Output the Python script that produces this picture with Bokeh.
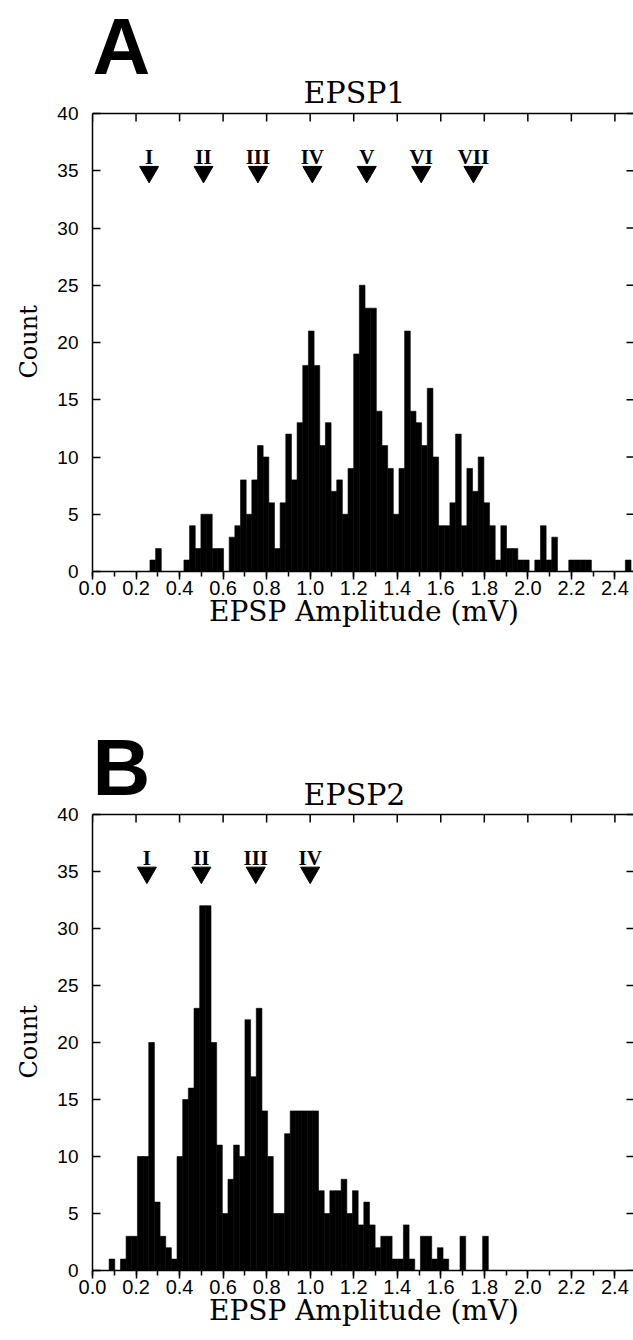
import math
from bokeh.plotting import figure
from bokeh.models import (ColumnDataSource, LinearAxis, SingleIntervalTicker,
                          Range1d, Label, Title, PrintfTickFormatter)
from bokeh.layouts import column
from bokeh.embed import file_html
from bokeh.resources import INLINE
from bokeh.core.properties import value

# ---------------- data ----------------
# Panel A : EPSP1 amplitude histogram
a_bin_start = 0.264      # mV, left edge of first bin
a_bin_width = 0.026      # mV
a_counts = [1, 2, 0, 0, 0, 0, 1, 4, 2, 5, 5, 2, 2, 0, 3, 4, 8, 5, 8, 11,
            10, 6, 2, 6, 12, 8, 13, 18, 21, 18, 11, 13, 7, 8, 5, 9, 19, 25, 23, 23,
            14, 11, 9, 5, 9, 21, 14, 13, 11, 16, 10, 4, 4, 6, 12, 4, 9, 7, 10, 6,
            4, 1, 4, 2, 2, 1, 1, 0, 1, 4, 1, 3, 0, 0, 1, 1, 1, 1, 0, 0,
            0, 0, 0, 0, 1]
a_peak_pos = [0.26, 0.51, 0.76, 1.01, 1.26, 1.51, 1.75]
a_peak_labels = ["I", "II", "III", "IV", "V", "VI", "VII"]

# Panel B : EPSP2 amplitude histogram
b_bin_start = 0.0764
b_bin_width = 0.026
b_counts = [1, 0, 1, 3, 3, 10, 10, 20, 6, 3, 2, 1, 10, 15, 16, 23, 32, 32, 20, 11,
            5, 8, 11, 10, 22, 17, 23, 14, 10, 5, 5, 12, 14, 14, 14, 14, 14, 7, 5, 7,
            7, 8, 5, 7, 4, 6, 4, 2, 3, 3, 1, 1, 4, 1, 0, 3, 3, 1, 2, 1,
            0, 0, 3, 0, 0, 0, 3]
b_peak_pos = [0.25, 0.50, 0.75, 1.00]
b_peak_labels = ["I", "II", "III", "IV"]

x_tick_values = [0.2 * i for i in range(13)]     # 0.0 ... 2.4
y_tick_values = [5 * i for i in range(9)]        # 0 ... 40
y_max = 40
x_max = 2.49
marker_level = 34.9        # count level of the quantal arrows
label_level = 36.2         # count level of the roman numerals

SERIF = "DejaVu Serif"
SANS = "Liberation Sans"

LEFT = 90          # left border (px)
BOX_W = 542        # width of the plot box (px)
PAGE_W = 633
COUNT_LABEL_LEN = 72   # approximate length of the "Count" label (px)


def make_panel(letter, title, counts, start, width, peaks, peak_labels,
               head_h, box_h, b_bottom, letter_dy, title_dy):
    """head_h: pixels above the box reserved for the panel letter and title."""
    px_per_x = BOX_W / x_max
    px_per_y = box_h / y_max
    frame_w = PAGE_W - LEFT
    frame_h = head_h + box_h
    p = figure(frame_width=frame_w, frame_height=frame_h,
               x_range=Range1d(0, frame_w / px_per_x),
               y_range=Range1d(0, frame_h / px_per_y),
               output_backend="svg", toolbar_location=None,
               min_border_left=LEFT, min_border_right=0,
               min_border_top=0, min_border_bottom=b_bottom,
               x_axis_location=None, y_axis_location=None,
               background_fill_color="white", border_fill_color="white")
    p.outline_line_color = None
    p.xgrid.visible = False
    p.ygrid.visible = False

    left = [start + i * width for i in range(len(counts))]
    right = [l + width for l in left]
    src = ColumnDataSource(dict(left=left, right=right, top=counts,
                                bottom=[0] * len(counts)))
    p.quad(left="left", right="right", top="top", bottom="bottom", source=src,
           fill_color="black", line_color="black", line_width=0.6)

    # top and right sides of the box
    p.segment(x0=[0, x_max], y0=[y_max, 0], x1=[x_max, x_max], y1=[y_max, y_max],
              line_color="black", line_width=1.5)
    # ticks on the top and right edges of the box (pointing inwards)
    p.ray(x=x_tick_values, y=[y_max] * len(x_tick_values), length=8,
          length_units="screen", angle=-math.pi / 2, line_color="black", line_width=1.5)
    p.ray(x=[x_max] * len(y_tick_values), y=y_tick_values, length=8,
          length_units="screen", angle=math.pi, line_color="black", line_width=1.5)

    # quantal markers
    msrc = ColumnDataSource(dict(x=peaks, y=[marker_level] * len(peaks),
                                 ly=[label_level] * len(peaks), txt=peak_labels))
    p.scatter(x="x", y="y", source=msrc, marker="inverted_triangle", size=19,
              fill_color="black", line_color="black")
    p.text(x="x", y="ly", text="txt", source=msrc, text_align="center",
           text_baseline="middle", text_font=value("Liberation Serif"),
           text_font_style="bold", text_font_size="21px", text_color="black")

    # axes
    xb = LinearAxis(ticker=SingleIntervalTicker(interval=0.2, num_minor_ticks=2),
                    formatter=PrintfTickFormatter(format="%.1f"),
                    axis_label="EPSP Amplitude (mV)", bounds=(0, x_max))
    xb.major_tick_in = 0
    xb.major_tick_out = 8
    xb.minor_tick_in = 0
    xb.minor_tick_out = 5
    xb.major_label_standoff = 1
    xb.major_label_text_font = SANS
    xb.major_label_text_font_size = "20px"
    xb.axis_label_text_font = SERIF
    xb.axis_label_text_font_size = "28px"
    xb.axis_label_text_font_style = "normal"
    xb.axis_label_standoff = -3
    p.add_layout(xb, "below")

    yl = LinearAxis(ticker=SingleIntervalTicker(interval=5, num_minor_ticks=0),
                    bounds=(0, y_max))
    yl.major_tick_in = 8
    yl.major_tick_out = 0
    yl.minor_tick_in = 0
    yl.minor_tick_out = 0
    yl.major_label_standoff = 14
    yl.major_label_text_font = SANS
    yl.major_label_text_font_size = "19px"
    p.add_layout(yl, "left")

    for ax in (xb, yl):
        ax.axis_line_width = 1.5
        ax.major_tick_line_width = 1.5
        ax.minor_tick_line_width = 1.5
        ax.axis_line_color = "black"
        ax.major_tick_line_color = "black"
        ax.minor_tick_line_color = "black"
        ax.major_label_text_color = "black"
        ax.axis_label_text_color = "black"

    # y-axis label, centred on the box (not on the whole frame):
    # a left-aligned side title starts "offset" pixels above the frame bottom
    p.add_layout(Title(text="Count", align="left",
                       offset=box_h / 2 - COUNT_LABEL_LEN / 2,
                       standoff=24, text_font=SERIF, text_font_size="24px",
                       text_font_style="normal", text_color="black"), "left")

    # panel letter and title (placed in the space above the box)
    p.add_layout(Label(x=0, y=y_max + letter_dy / px_per_y, text=letter,
                       text_font=SANS, text_font_style="bold", text_font_size="80px",
                       text_align="left", text_baseline="middle", text_color="black"))
    p.add_layout(Label(x=(352 - LEFT) / px_per_x, y=y_max + title_dy / px_per_y,
                       text=title, text_font=SERIF, text_font_size="30px",
                       text_align="center", text_baseline="middle", text_color="black"))
    return p


pa = make_panel("A", "EPSP1", a_counts, a_bin_start, a_bin_width,
                a_peak_pos, a_peak_labels,
                head_h=113, box_h=458, b_bottom=99, letter_dy=67, title_dy=21)
pb = make_panel("B", "EPSP2", b_counts, b_bin_start, b_bin_width,
                b_peak_pos, b_peak_labels,
                head_h=144, box_h=456, b_bottom=70, letter_dy=47, title_dy=20)

layout = column(pa, pb, spacing=0)
open("out.html", "w").write(file_html(layout, INLINE))
